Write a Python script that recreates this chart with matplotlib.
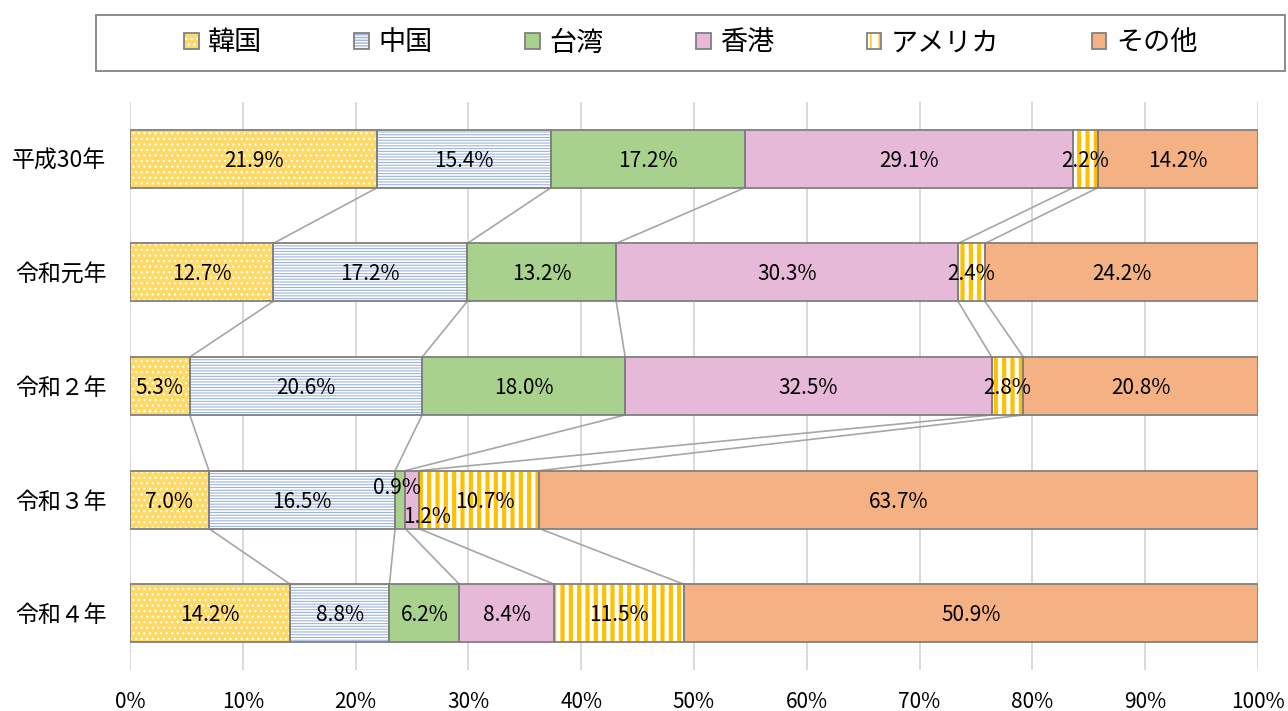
import matplotlib
matplotlib.use("Agg")
import matplotlib.pyplot as plt
from matplotlib.patches import Rectangle
from matplotlib.legend_handler import HandlerTuple
import numpy as np

plt.rcParams['font.family'] = ['Noto Sans CJK JP', 'DejaVu Sans']

# ---- data ----
years = ['平成30年', '令和元年', '令和２年', '令和３年', '令和４年']
series = ['韓国', '中国', '台湾', '香港', 'アメリカ', 'その他']
korea = [21.9, 12.7, 5.3, 7.0, 14.2]
china = [15.4, 17.2, 20.6, 16.5, 8.8]
taiwan = [17.2, 13.2, 18.0, 0.9, 6.2]
hongkong = [29.1, 30.3, 32.5, 1.2, 8.4]
america = [2.2, 2.4, 2.8, 10.7, 11.5]
other = [14.2, 24.2, 20.8, 63.7, 50.9]
xticks = [0, 10, 20, 30, 40, 50, 60, 70, 80, 90, 100]

values = np.array([korea, china, taiwan, hongkong, america, other])  # (series, years)

# ---- styles ----
face = ['#FFD966', 'white', '#A9D18E', '#E6B9D8', 'white', '#F4B183']
hatch = ['...', '------', None, None, '||', None]
hcol = ['white', '#9DB4E0', None, None, '#FFC000', None]
hlw = [0.9, 0.8, 1.0, 1.0, 3.0, 1.0]
edge = '#808080'
bar_h = 0.51

# label offsets in pixels (dx, dy) for crowded labels: (series idx, year idx)
label_off = {(2, 3): (-3, 14), (3, 3): (15, -15), (4, 3): (6, 0)}

W, H = 1288, 711
fig = plt.figure(figsize=(W / 100, H / 100), dpi=100)
ax = fig.add_axes([130 / W, 41 / H, 1128 / W, 568 / H])

y = np.arange(len(years))
cum = np.zeros(len(years))
for i, name in enumerate(series):
    v = values[i]
    kw = dict(height=bar_h, left=cum, color=face[i], zorder=3)
    if hatch[i]:
        bars = ax.barh(y, v, hatch=hatch[i], edgecolor=hcol[i], linewidth=0, **kw)
        for b in bars:
            try:
                b.set_hatch_linewidth(hlw[i])
            except Exception:
                pass
    else:
        ax.barh(y, v, linewidth=0, **kw)
    ax.barh(y, v, height=bar_h, left=cum, fill=False, edgecolor=edge, linewidth=1.3, zorder=4)
    for j in range(len(years)):
        dx, dy = label_off.get((i, j), (0, 0))
        ax.annotate(f'{v[j]:.1f}%', (cum[j] + v[j] / 2, y[j]), xytext=(dx * 0.72, (dy - 2) * 0.72),
                    textcoords='offset points', ha='center', va='center',
                    fontsize=15, color='black', zorder=6)
    cum = cum + v

# series lines
cums = np.cumsum(values, axis=0)
for k in range(len(series) - 1):
    for j in range(len(years) - 1):
        ax.plot([cums[k, j], cums[k, j + 1]], [y[j] + bar_h / 2, y[j + 1] - bar_h / 2],
                color='#A6A6A6', lw=1.2, zorder=2, solid_capstyle='butt')

ax.set_xlim(0, 100)
ax.set_ylim(len(years) - 0.5, -0.5)
ax.set_xticks(xticks)
ax.set_xticklabels([f'{t}%' for t in xticks], fontsize=15)
ax.set_yticks(y)
ax.set_yticklabels(years, fontsize=16.5)
ax.tick_params(axis='x', length=0, pad=15)
ax.tick_params(axis='y', length=0, pad=17)
for s in ax.spines.values():
    s.set_visible(False)
ax.xaxis.grid(True, color='#D9D9D9', lw=1.4, zorder=0)
ax.set_axisbelow(True)

# legend
handles = []
for i in range(len(series)):
    if hatch[i]:
        p1 = Rectangle((0, 0), 1, 1, facecolor=face[i], hatch=hatch[i], edgecolor=hcol[i], linewidth=0)
        try:
            p1.set_hatch_linewidth(hlw[i])
        except Exception:
            pass
    else:
        p1 = Rectangle((0, 0), 1, 1, facecolor=face[i], linewidth=0)
    p2 = Rectangle((0, 0), 1, 1, fill=False, edgecolor=edge, linewidth=1.3)
    handles.append((p1, p2))

leg = fig.legend(handles, series, loc='center', bbox_to_anchor=(690.5 / W, 1 - 43 / H),
                 ncol=6, frameon=False, fontsize=19.5, handlelength=0.55, handleheight=0.55,
                 handletextpad=0.35, columnspacing=3.4,
                 handler_map={tuple: HandlerTuple(ndivide=1, pad=0)})
fig.patches.append(Rectangle((96 / W, 1 - 71 / H), (1285 - 96) / W, 56 / H, transform=fig.transFigure,
                             fill=False, edgecolor='#8C8C8C', linewidth=1.4))

fig.savefig('out.png', dpi=100)
